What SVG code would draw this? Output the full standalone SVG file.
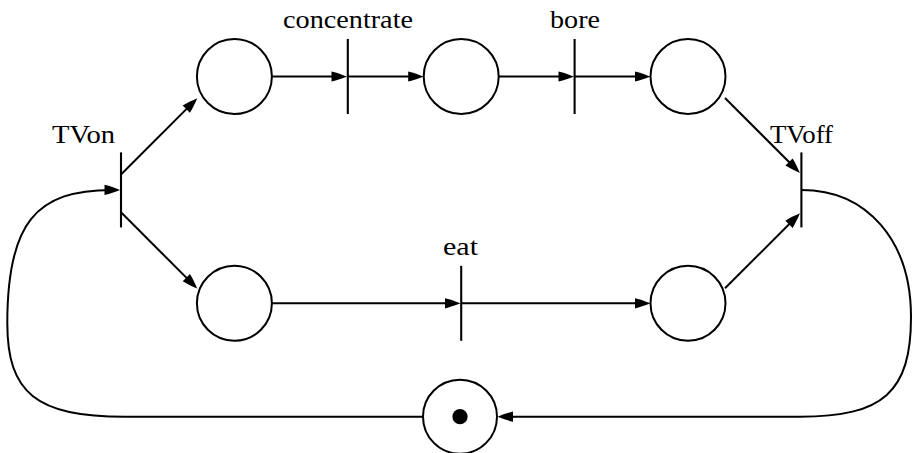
<svg xmlns="http://www.w3.org/2000/svg" width="912" height="453" viewBox="0 0 912 453">
  <style>
    .place { fill: #ffffff; stroke: #000000; stroke-width: 2; }
    .bar { stroke: #000000; stroke-width: 2.1; fill: none; }
    .arc { stroke: #000000; stroke-width: 2; fill: none; marker-end: url(#head); }
    .label { font-family: "Liberation Serif", "Times New Roman", "DejaVu Serif", serif; font-size: 26px; fill: #000000; text-anchor: middle; }
  </style>
  <defs>
    <!-- filled arrowhead; the path ends 8px short of the tip -->
    <marker id="head" markerUnits="userSpaceOnUse" viewBox="-10 -6 20 12" refX="0" refY="0" markerWidth="20" markerHeight="12" orient="auto" overflow="visible">
      <path d="M8,0 C3,2 -2,3.8 -7.5,5.1 L-7.5,-5.1 C-2,-3.8 3,-2 8,0 Z" fill="#000000"/>
    </marker>
  </defs>

  <rect width="912" height="453" fill="#ffffff"/>

  <!-- connectors -->
  <g id="connectors">
    <path class="arc" d="M121,174.5 L191.6,103.9"/>
    <path class="arc" d="M121,212.3 L191.6,282.9"/>
    <path class="arc" d="M271.9,76.5 H339"/>
    <path class="arc" d="M347.8,76.5 H415.7"/>
    <path class="arc" d="M498.7,76.5 H566"/>
    <path class="arc" d="M574.6,76.5 H642.5"/>
    <path class="arc" d="M271.9,303.3 H452.5"/>
    <path class="arc" d="M461.2,303.3 H642.5"/>
    <path class="arc" d="M725,98 L794.3,167.3"/>
    <path class="arc" d="M725,288.3 L794.3,219"/>
    <!-- return loop from TVoff back to the marked place -->
    <path class="arc" d="M801.4,189.9 C867.2,189.9 911,240.8 911,317 C911,391.8 883.3,416.7 800,416.7 H505.5"/>
    <!-- loop from the marked place up to TVon -->
    <path class="arc" d="M423,416.7 H125 C36.5,416.7 7.3,393.3 7.3,323 C7.3,223.3 35.7,189.9 112,189.9"/>
  </g>

  <!-- places -->
  <g id="p1"><circle class="place" cx="234.4" cy="76.5" r="37.5"/></g>
  <g id="p2"><circle class="place" cx="461.2" cy="76.5" r="37.5"/></g>
  <g id="p3"><circle class="place" cx="688" cy="76.5" r="37.5"/></g>
  <g id="p4"><circle class="place" cx="234.4" cy="303.3" r="37.5"/></g>
  <g id="p5"><circle class="place" cx="688" cy="303.3" r="37.5"/></g>
  <g id="p6">
    <circle class="place" cx="460" cy="416.7" r="37"/>
    <circle cx="460" cy="416.7" r="7.6" fill="#000000"/>
  </g>

  <!-- transitions -->
  <g id="tvon">
    <line class="bar" x1="121" y1="152.4" x2="121" y2="227.4"/>
    <text class="label" font-family="Liberation Serif, serif" x="83.5" y="142.7" textLength="63" lengthAdjust="spacingAndGlyphs">TVon</text>
  </g>
  <g id="concentrate">
    <line class="bar" x1="347.8" y1="39" x2="347.8" y2="114"/>
    <text class="label" font-family="Liberation Serif, serif" x="348" y="28" textLength="130" lengthAdjust="spacingAndGlyphs">concentrate</text>
  </g>
  <g id="bore">
    <line class="bar" x1="574.6" y1="39" x2="574.6" y2="114"/>
    <text class="label" font-family="Liberation Serif, serif" x="575" y="28" textLength="50" lengthAdjust="spacingAndGlyphs">bore</text>
  </g>
  <g id="eat">
    <line class="bar" x1="461.2" y1="265.8" x2="461.2" y2="340.8"/>
    <text class="label" font-family="Liberation Serif, serif" x="460.5" y="255" textLength="35" lengthAdjust="spacingAndGlyphs">eat</text>
  </g>
  <g id="tvoff">
    <line class="bar" x1="801.4" y1="152.4" x2="801.4" y2="227.4"/>
    <text class="label" font-family="Liberation Serif, serif" x="801.5" y="142.7" textLength="63" lengthAdjust="spacingAndGlyphs">TVoff</text>
  </g>
</svg>
